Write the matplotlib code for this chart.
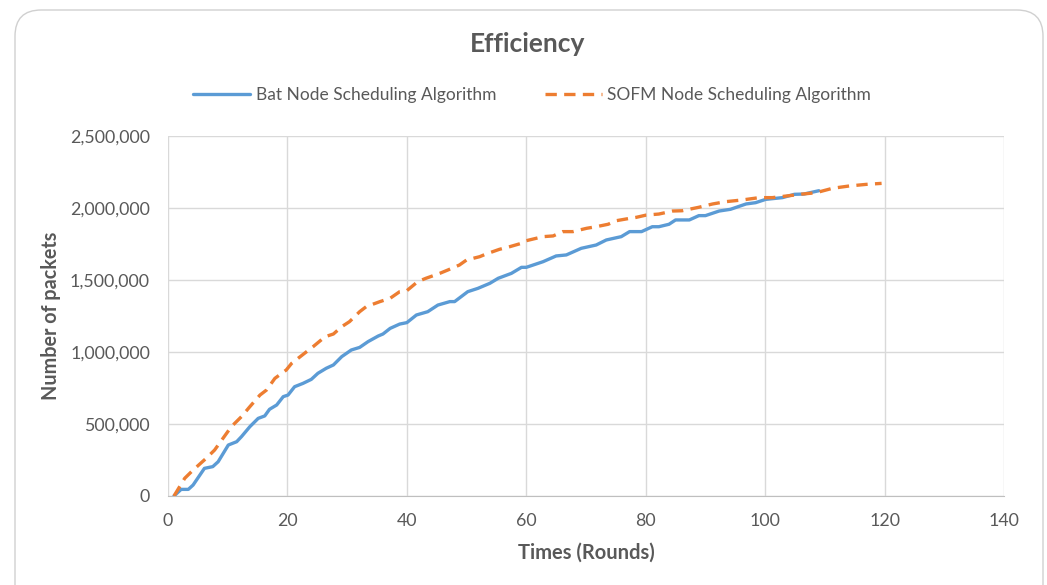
import matplotlib
matplotlib.use("Agg")
import matplotlib.pyplot as plt
from matplotlib.patches import FancyBboxPatch
from matplotlib.ticker import FuncFormatter

# Data
bat_x = [1, 2.2, 3.4, 4.2, 6.1, 7.5, 8.4, 10.1, 11.5, 12.3, 13.7, 15.1, 16.2, 17.0, 18.2,
         19.3, 20.1, 21.2, 22.6, 24.0, 25.1, 26.5, 27.7, 29.1, 30.7, 32.1, 33.5, 35.2, 36.0,
         37.2, 38.8, 40.0, 41.6, 43.5, 45.2, 47.2, 48.0, 50.2, 51.9, 53.9, 55.3, 57.5, 59.2,
         60.0, 62.8, 65.0, 66.7, 69.2, 71.7, 73.4, 75.9, 77.3, 79.3, 81.1, 82.2, 83.9, 85.0,
         87.3, 88.9, 90.0, 92.3, 94.2, 96.8, 98.4, 100.1, 102.9, 104.9, 106.5, 109.0]
bat_y = [0, 46000, 46000, 76000, 192000, 204000, 238000, 354000, 377000, 412000, 481000,
         539000, 556000, 602000, 632000, 690000, 701000, 759000, 782000, 810000, 852000,
         887000, 910000, 968000, 1014000, 1032000, 1072000, 1111000, 1125000, 1164000,
         1194000, 1204000, 1257000, 1280000, 1326000, 1350000, 1350000, 1419000, 1442000,
         1477000, 1512000, 1546000, 1588000, 1588000, 1627000, 1667000, 1674000, 1720000,
         1743000, 1778000, 1801000, 1836000, 1836000, 1870000, 1870000, 1887000, 1917000,
         1917000, 1947000, 1947000, 1979000, 1991000, 2028000, 2037000, 2060000, 2072000,
         2095000, 2097000, 2120000]

sofm_x = [1, 2.8, 4.2, 6.4, 7.8, 10.6, 12.3, 13.7, 15.4, 16.5, 17.9, 19.8, 20.7, 23.2, 24.3,
          26.3, 27.7, 29.1, 30.4, 32.1, 33.2, 35.5, 37.2, 38.8, 40.0, 41.8, 43.2, 45.5, 46.9,
          48.8, 50.0, 52.2, 53.3, 55.5, 57.2, 59.2, 60.0, 62.8, 64.5, 66.1, 67.8, 70.1, 71.7,
          73.7, 75.1, 77.3, 78.4, 80.1, 82.2, 84.5, 86.1, 88.9, 91.2, 93.4, 96.2, 99.0, 101.2,
          103.5, 106.3, 108.5, 111.3, 114.1, 116.9, 119.5]
sofm_y = [0, 123000, 180000, 262000, 319000, 481000, 551000, 620000, 701000, 736000, 817000,
          875000, 921000, 1002000, 1037000, 1106000, 1125000, 1176000, 1211000, 1280000,
          1315000, 1350000, 1373000, 1419000, 1426000, 1488000, 1512000, 1546000, 1570000,
          1604000, 1639000, 1662000, 1681000, 1713000, 1731000, 1755000, 1773000, 1801000,
          1806000, 1836000, 1836000, 1859000, 1870000, 1887000, 1912000, 1928000, 1935000,
          1951000, 1958000, 1979000, 1981000, 2005000, 2028000, 2044000, 2056000, 2072000,
          2072000, 2083000, 2097000, 2106000, 2137000, 2153000, 2164000, 2171000]

x_ticks = [0, 20, 40, 60, 80, 100, 120, 140]
y_ticks = [0, 500000, 1000000, 1500000, 2000000, 2500000]

plt.rcParams['font.family'] = ['Lato', 'DejaVu Sans']
TXT = '#595959'

fig = plt.figure(figsize=(10.47, 5.85), dpi=100)
border = FancyBboxPatch((15 / 1047, -0.05), (1043 - 15) / 1047, 1.0 - 10 / 585 + 0.05,
                        boxstyle="round,pad=0,rounding_size=0.025",
                        transform=fig.transFigure, facecolor='white',
                        edgecolor='#d0d0d0', linewidth=1.0, mutation_aspect=1047 / 585,
                        zorder=-10)
fig.patches.append(border)

ax = fig.add_axes([168 / 1047, 1 - 496 / 585, (1004 - 168) / 1047, (496 - 136) / 585])
ax.set_facecolor('none')
ax.set_zorder(5)

ax.plot(bat_x, bat_y, color='#5B9BD5', lw=2.4, label='Bat Node Scheduling Algorithm',
        solid_capstyle='round', zorder=3)
ax.plot(sofm_x, sofm_y, color='#ED7D31', lw=2.4, linestyle=(0, (3.4, 2.2)),
        label='SOFM Node Scheduling Algorithm', zorder=4)

ax.set_xlim(0, 140)
ax.set_ylim(0, 2500000)
ax.set_xticks(x_ticks)
ax.set_yticks(y_ticks)
ax.yaxis.set_major_formatter(FuncFormatter(lambda v, p: f"{int(v):,}"))
ax.grid(True, color='#d9d9d9', lw=1.0)
ax.set_axisbelow(True)
for s in ['top', 'right', 'left']:
    ax.spines[s].set_visible(False)
ax.spines['bottom'].set_color('#bfbfbf')
ax.tick_params(length=0, labelsize=12.8, colors=TXT)
ax.tick_params(axis='y', pad=13)
ax.tick_params(axis='x', pad=12)

ax.set_xlabel('Times (Rounds)', fontsize=14.5, fontweight='bold', color=TXT, labelpad=10)
ax.set_ylabel('Number of packets', fontsize=14.2, fontweight='bold', color=TXT, labelpad=6.5)

fig.text(528 / 1047, 1 - 44 / 585, 'Efficiency', ha='center', va='center',
         fontsize=19, fontweight='bold', color=TXT)

fig.legend(loc='center', bbox_to_anchor=(532 / 1047, 1 - 95 / 585), ncol=2, frameon=False,
           fontsize=12.5, handlelength=3.3, columnspacing=2.8, handletextpad=0.3,
           labelcolor=TXT)

fig.savefig('out.png', dpi=100)
